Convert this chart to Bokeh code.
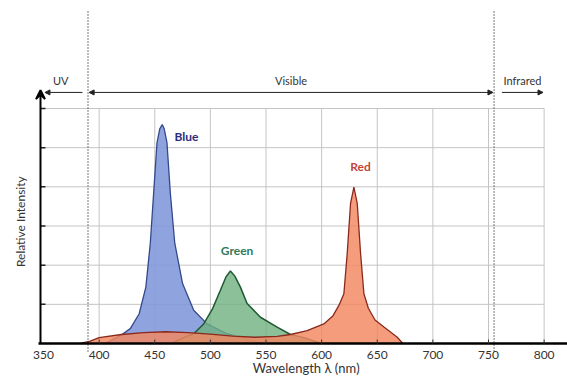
from bokeh.plotting import figure
from bokeh.models import Range1d, Arrow, VeeHead, NormalHead
from bokeh.embed import file_html
from bokeh.resources import INLINE
from bokeh.core.properties import value

# ---- data ----
x_ticks = [350, 400, 450, 500, 550, 600, 650, 700, 750, 800]
grid_x = [400, 450, 500, 550, 600, 650, 700, 750, 800]
grid_y = [1, 2, 3, 4, 5, 6]
uv_edge = 390
ir_edge = 755

blue_nm = [405, 419, 428, 436, 442, 446, 449, 452, 454.5, 456.7, 458.5, 461, 464, 468, 475, 485, 497, 515, 536, 552]
blue_val = [0, 0.2, 0.38, 0.76, 1.44, 2.56, 3.84, 5.12, 5.48, 5.59, 5.48, 5.12, 3.84, 2.56, 1.53, 0.85, 0.5, 0.25, 0.08, 0]

green_nm = [465, 476, 485, 494, 502, 509, 514, 518, 522, 527, 533, 545, 560, 572, 584, 600]
green_val = [0, 0.15, 0.25, 0.5, 0.89, 1.36, 1.7, 1.85, 1.72, 1.44, 1.02, 0.67, 0.42, 0.23, 0.15, 0]

red_nm = [383, 392, 400, 420, 440, 460, 480, 500, 520, 540, 560, 572, 587, 602, 610, 616, 620, 623, 626, 629, 632, 635, 638, 642, 648, 656, 668, 673]
red_val = [0, 0.06, 0.15, 0.23, 0.28, 0.3, 0.28, 0.24, 0.19, 0.16, 0.18, 0.23, 0.33, 0.5, 0.7, 1.0, 1.27, 2.3, 3.58, 3.99, 3.58, 2.3, 1.27, 0.9, 0.6, 0.42, 0.16, 0]

series_names = ["Blue", "Green", "Red"]
label_pos_nm = [478.5, 524, 635]
label_pos_val = [5.28, 2.37, 4.52]
region_names = ["UV", "Visible", "Infrared"]
x_title = "Wavelength λ (nm)"
y_title = "Relative Intensity"

FONT = "Lato"
# data window covering the whole canvas
X0, X1 = 311.35, 821.0
Y0, Y1 = -0.868, 8.757
AXIS_X = 347.3          # wavelength where the vertical axis sits
PX_X = 1 / 1.1125       # nm per pixel
PX_Y = 1 / 39.17        # units per pixel

p = figure(width=567, height=377, output_backend="svg", toolbar_location=None,
           x_range=Range1d(X0, X1), y_range=Range1d(Y0, Y1),
           x_axis_location=None, y_axis_location=None,
           min_border_left=0, min_border_right=0, min_border_top=0, min_border_bottom=0)
p.outline_line_color = None
p.grid.visible = False
p.background_fill_color = "white"
p.border_fill_color = "white"

# grid
p.segment(x0=grid_x, y0=[0] * len(grid_x), x1=grid_x, y1=[max(grid_y)] * len(grid_x),
          line_color="#c4c4c4", line_width=1)
p.segment(x0=[AXIS_X] * len(grid_y), y0=grid_y, x1=[max(grid_x)] * len(grid_y), y1=grid_y,
          line_color="#c4c4c4", line_width=1)

# curves
p.varea(x=blue_nm, y1=[0] * len(blue_nm), y2=blue_val, fill_color="#7f97da", fill_alpha=0.88)
p.line(blue_nm, blue_val, line_color="#34488c", line_width=1.3)
p.varea(x=green_nm, y1=[0] * len(green_nm), y2=green_val, fill_color="#6fb080", fill_alpha=0.8)
p.line(green_nm, green_val, line_color="#1f5a34", line_width=1.5)
p.varea(x=red_nm, y1=[0] * len(red_nm), y2=red_val, fill_color="#f38660", fill_alpha=0.82)
p.line(red_nm, red_val, line_color="#8a2a1c", line_width=1.3)

# series labels
label_colors = ["#2b2d7e", "#2f7a5a", "#c0463a"]
for i in range(3):
    p.text(x=label_pos_nm[i:i + 1], y=label_pos_val[i:i + 1], text=series_names[i:i + 1],
           text_color=label_colors[i], text_font=value(FONT), text_font_style="bold",
           text_font_size="12px", text_align="center", text_baseline="middle")

# region boundaries (dotted)
p.segment(x0=[uv_edge, ir_edge], y0=[-8 * PX_Y, -8 * PX_Y], x1=[uv_edge, ir_edge], y1=[8.5, 8.5],
          line_color="#333333", line_width=1.3, line_dash="1 2")

# region arrows and labels
ay = 6.41
ty = 6.72
head = dict(size=5, fill_color="#222222", line_color="#222222")
p.add_layout(Arrow(x_start=uv_edge - 5, y_start=ay, x_end=AXIS_X + 4, y_end=ay,
                   end=NormalHead(**head), line_color="#222222", line_width=1))
p.add_layout(Arrow(x_start=uv_edge + 1, y_start=ay, x_end=ir_edge - 1, y_end=ay,
                   start=NormalHead(**head), end=NormalHead(**head),
                   line_color="#222222", line_width=1))
p.add_layout(Arrow(x_start=ir_edge + 7, y_start=ay, x_end=799, y_end=ay,
                   end=NormalHead(**head), line_color="#222222", line_width=1))
p.text(x=[365.5, (uv_edge + ir_edge) / 2, 780.5], y=[ty] * 3, text=region_names,
       text_color="#333333", text_font=value(FONT), text_font_size="11px",
       text_align="center", text_baseline="middle")

# vertical axis: arrow + inner ticks
p.add_layout(Arrow(x_start=AXIS_X, y_start=0, x_end=AXIS_X, y_end=6.47,
                   end=VeeHead(size=9, line_width=2, line_color="black"),
                   line_color="black", line_width=2))
p.segment(x0=[AXIS_X] * len(grid_y), y0=grid_y, x1=[AXIS_X + 5 * PX_X] * len(grid_y), y1=grid_y,
          line_color="#222222", line_width=1.5)

# horizontal axis: line, inner ticks, labels
p.segment(x0=[AXIS_X - 2 * PX_X], y0=[0], x1=[X1], y1=[0], line_color="black", line_width=2.5)
p.segment(x0=grid_x, y0=[0] * len(grid_x), x1=grid_x, y1=[4 * PX_Y] * len(grid_x),
          line_color="#333333", line_width=1)
p.text(x=x_ticks, y=[-11 * PX_Y] * len(x_ticks), text=[str(t) for t in x_ticks],
       text_color="#333333", text_font=value(FONT), text_font_size="12px",
       text_align="center", text_baseline="middle")

# axis titles
p.text(x=[586], y=[-24.5 * PX_Y], text=[x_title], text_color="#333333", text_font=value(FONT),
       text_font_size="13px", text_align="center", text_baseline="middle")
p.text(x=[AXIS_X - 20 * PX_X], y=[3.11], text=[y_title], angle=1.5708, text_color="#333333",
       text_font=value(FONT), text_font_size="12px", text_align="center", text_baseline="middle")

open("out.html", "w").write(file_html(p, INLINE))
